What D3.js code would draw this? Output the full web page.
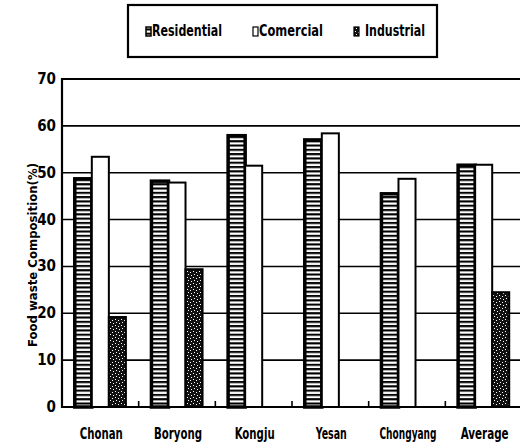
<!DOCTYPE html>
<html>
<head>
<meta charset="utf-8">
<script src="https://cdn.jsdelivr.net/npm/d3@7"></script>
<style>
  body { margin: 0; background: #fff; }
  svg { display: block; }
  text { font-family: "DejaVu Sans Condensed", "DejaVu Sans", sans-serif; fill: #000; }
</style>
</head>
<body>
<div id="chart"></div>
<script>
// Data
const cities = ['Chonan', 'Boryong', 'Kongju', 'Yesan', 'Chongyang', 'Average'];
const seriesNames = ['Residential', 'Comercial', 'Industrial'];
const residential = [48.7, 48.2, 57.9, 57.0, 45.5, 51.6];
const commercial = [53.4, 47.9, 51.5, 58.4, 48.7, 51.7];
const industrial = [19.2, 29.4, null, null, null, 24.5];
const yTicks = [0, 10, 20, 30, 40, 50, 60, 70];

const seriesValues = [residential, commercial, industrial];
const fills = ['url(#pat-res)', '#fff', 'url(#pat-ind)'];
const strokeW = [3.5, 2, 2];

const W = 520, H = 447;
const svg = d3.select('#chart').append('svg')
  .attr('width', W)
  .attr('height', H);

// Patterns
const defs = svg.append('defs');
const pRes = defs.append('pattern')
  .attr('id', 'pat-res')
  .attr('patternUnits', 'userSpaceOnUse')
  .attr('width', 8).attr('height', 4.3);
pRes.append('rect').attr('width', 8).attr('height', 4.3).attr('fill', '#000');
pRes.append('rect').attr('y', 0.4).attr('width', 8).attr('height', 2.2).attr('fill', '#fff');

const pInd = defs.append('pattern')
  .attr('id', 'pat-ind')
  .attr('patternUnits', 'userSpaceOnUse')
  .attr('width', 6).attr('height', 6);
pInd.append('rect').attr('width', 6).attr('height', 6).attr('fill', '#111');
[[1, 1], [4, 2], [2, 4], [5, 5]].forEach(p => {
  pInd.append('rect').attr('x', p[0]).attr('y', p[1]).attr('width', 1).attr('height', 1).attr('fill', '#fff');
});

// Scales
const x = d3.scaleBand()
  .domain(cities)
  .range([62, 522])
  .paddingInner(1 / 3)
  .paddingOuter(1 / 6);

const xs = d3.scaleBand()
  .domain(seriesNames)
  .range([0, x.bandwidth()]);

const y = d3.scaleLinear()
  .domain([0, 70])
  .range([407, 79]);

// Gridlines
svg.append('g')
  .selectAll('line')
  .data(yTicks.filter(t => t > 0))
  .enter()
  .append('line')
  .attr('x1', 62)
  .attr('x2', W)
  .attr('y1', d => y(d))
  .attr('y2', d => y(d))
  .attr('stroke', '#000')
  .attr('stroke-width', d => d === 70 ? 2.2 : 1.6);

// Y tick labels
svg.append('g')
  .selectAll('text')
  .data(yTicks)
  .enter()
  .append('text')
  .attr('x', 56)
  .attr('y', d => y(d) + 5)
  .attr('text-anchor', 'end')
  .attr('font-size', 15)
  .attr('font-weight', 'bold')
  .text(d => d);

// Bars
seriesNames.forEach((name, i) => {
  svg.append('g')
    .selectAll('rect')
    .data(cities.map((c, j) => ({ city: c, value: seriesValues[i][j] })).filter(d => d.value != null))
    .enter()
    .append('rect')
    .attr('x', d => x(d.city) + xs(name))
    .attr('y', d => y(d.value))
    .attr('width', xs.bandwidth())
    .attr('height', d => y(0) - y(d.value))
    .attr('fill', fills[i])
    .attr('stroke', '#000')
    .attr('stroke-width', strokeW[i]);
});

// Axes lines
svg.append('line')
  .attr('x1', 62).attr('x2', 62)
  .attr('y1', y(70) - 1).attr('y2', y(0) + 1)
  .attr('stroke', '#000').attr('stroke-width', 2.2);
svg.append('line')
  .attr('x1', 61).attr('x2', W)
  .attr('y1', y(0)).attr('y2', y(0))
  .attr('stroke', '#000').attr('stroke-width', 2.2);

// Small ticks between groups
svg.append('g')
  .selectAll('line')
  .data(cities.slice(1))
  .enter()
  .append('line')
  .attr('x1', d => x(d) - x.step() * x.paddingInner() / 2)
  .attr('x2', d => x(d) - x.step() * x.paddingInner() / 2)
  .attr('y1', y(0))
  .attr('y2', y(0) - 6)
  .attr('stroke', '#000')
  .attr('stroke-width', 1.6);

// X labels
const xLabelW = [43, 48, 40, 31, 57, 48];
svg.append('g')
  .selectAll('text')
  .data(cities)
  .enter()
  .append('text')
  .attr('x', d => x(d) + x.bandwidth() / 2 + 1)
  .attr('y', 439)
  .attr('text-anchor', 'middle')
  .attr('font-size', 15)
  .attr('font-weight', 'bold')
  .attr('textLength', (d, i) => xLabelW[i])
  .attr('lengthAdjust', 'spacingAndGlyphs')
  .text(d => d);

// Y axis title
svg.append('text')
  .attr('transform', 'translate(37,255) rotate(-90)')
  .attr('text-anchor', 'middle')
  .attr('font-size', 13)
  .attr('font-weight', 'bold')
  .attr('textLength', 184)
  .attr('lengthAdjust', 'spacing')
  .text('Food waste Composition(%)');

// Legend
const legend = svg.append('g');
legend.append('rect')
  .attr('x', 128).attr('y', 5)
  .attr('width', 309).attr('height', 52)
  .attr('fill', '#fff')
  .attr('stroke', '#000')
  .attr('stroke-width', 2.2);

const legSwX = [146, 253, 354];
const legTxX = [152, 259, 365];
const legTxW = [70, 64, 60];
seriesNames.forEach((name, i) => {
  legend.append('rect')
    .attr('x', legSwX[i]).attr('y', 27)
    .attr('width', 5).attr('height', 9)
    .attr('fill', fills[i])
    .attr('stroke', '#000')
    .attr('stroke-width', i === 0 ? 1.5 : 1.2);
  legend.append('text')
    .attr('x', legTxX[i])
    .attr('y', 36)
    .attr('font-size', 15)
    .attr('font-weight', 'bold')
    .attr('textLength', legTxW[i])
    .attr('lengthAdjust', 'spacingAndGlyphs')
    .text(name);
});
</script>
</body>
</html>
